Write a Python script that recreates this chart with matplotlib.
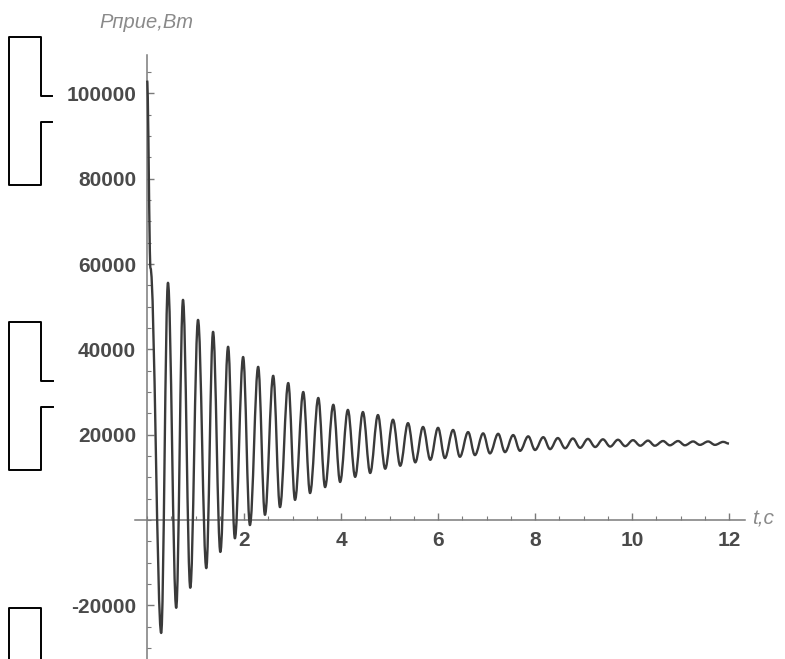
import matplotlib
matplotlib.use("Agg")
import matplotlib.pyplot as plt
from matplotlib.path import Path
from matplotlib.patches import PathPatch
from matplotlib.lines import Line2D
from matplotlib.ticker import MultipleLocator, FuncFormatter


START_T = [0.0, 0.07]
START_P = [103000, 59000]

TROUGH_T = [0.29, 0.60, 0.89, 1.22, 1.51, 1.81, 2.12, 2.43, 2.74, 3.05,
            3.36, 3.67, 3.98, 4.29, 4.60, 4.91, 5.22, 5.53, 5.84, 6.14,
            6.45, 6.76, 7.07, 7.38, 7.69, 8.00, 8.31, 8.62, 8.93, 9.24,
            9.55, 9.86, 10.17, 10.47, 10.78, 11.09, 11.40, 11.71]
TROUGH_P = [-26500, -20600, -15900, -11300, -7500, -4300, -1200, 1200, 3000, 4700,
            6300, 7700, 8900, 10100, 11000, 12000, 12700, 13500, 14100, 14500,
            14800, 15200, 15600, 15900, 16200, 16400, 16600, 16800, 16900, 17100,
            17200, 17300, 17400, 17400, 17500, 17500, 17600, 17600]

PEAK_T = [0.43, 0.74, 1.05, 1.36, 1.67, 1.98, 2.29, 2.60, 2.91, 3.22,
          3.53, 3.84, 4.14, 4.45, 4.76, 5.07, 5.38, 5.69, 6.00, 6.31,
          6.62, 6.93, 7.24, 7.55, 7.86, 8.17, 8.47, 8.78, 9.09, 9.40,
          9.71, 10.02, 10.33, 10.64, 10.95, 11.26, 11.57, 11.88]
PEAK_P = [55600, 51600, 46900, 44100, 40600, 38200, 35900, 33800, 32100, 30000,
          28600, 27000, 25800, 25300, 24600, 23500, 22700, 21800, 21600, 21100,
          20600, 20300, 20200, 19900, 19600, 19400, 19200, 19100, 19000, 18900,
          18800, 18700, 18600, 18500, 18500, 18400, 18400, 18300]

END_T = [12.0]
END_P = [17900]

Y_TICKS = [-20000, 20000, 40000, 60000, 80000, 100000]
X_TICKS = [2, 4, 6, 8, 10, 12]

AXIS_GRAY = "#7a7a7a"
LABEL_GRAY = "#4a4a4a"
CURVE = "#3a3a3a"


def smooth_path(ts, ps):
    # join consecutive extrema with cubic curves that are flat at each extremum
    verts = [(ts[0], ps[0])]
    codes = [Path.MOVETO]
    for i in range(1, len(ts)):
        dt = ts[i] - ts[i - 1]
        verts += [(ts[i - 1] + 0.36 * dt, ps[i - 1]),
                  (ts[i] - 0.36 * dt, ps[i]),
                  (ts[i], ps[i])]
        codes += [Path.CURVE4] * 3
    return Path(verts, codes)


def bracket(fig, pts):
    xs = [p[0] / 785 for p in pts]
    ys = [1 - p[1] / 659 for p in pts]
    fig.add_artist(Line2D(xs, ys, color="black", lw=1.4, solid_joinstyle="round"))


def main():
    pts = sorted(zip(START_T + TROUGH_T + PEAK_T + END_T,
                     START_P + TROUGH_P + PEAK_P + END_P))
    ts = [p[0] for p in pts]
    ps = [p[1] for p in pts]

    fig = plt.figure(figsize=(7.85, 6.59), dpi=100)
    ax = fig.add_axes([135 / 785, 0.0, 610 / 785, 604 / 659])
    ax.set_xlim(-0.25, 12.33)
    ax.set_ylim(-32600, 109000)

    ax.add_patch(PathPatch(smooth_path(ts, ps), fill=False, edgecolor=CURVE,
                           lw=1.7, joinstyle="round", zorder=3))

    for side in ("top", "right"):
        ax.spines[side].set_visible(False)
    ax.spines["left"].set_position(("data", 0))
    ax.spines["bottom"].set_position(("data", 0))
    for side in ("left", "bottom"):
        ax.spines[side].set_color(AXIS_GRAY)
        ax.spines[side].set_linewidth(1.1)

    ax.set_xticks(X_TICKS)
    ax.set_yticks(Y_TICKS)
    ax.xaxis.set_minor_locator(MultipleLocator(0.5))
    ax.yaxis.set_minor_locator(MultipleLocator(5000))
    ax.xaxis.set_major_formatter(FuncFormatter(lambda v, _: f"{v:g}"))
    ax.yaxis.set_major_formatter(FuncFormatter(lambda v, _: f"{int(v)}"))
    ax.tick_params(which="major", direction="in", length=5, width=1,
                   color=AXIS_GRAY, labelsize=15, labelcolor=LABEL_GRAY)
    ax.tick_params(which="minor", direction="in", length=3, width=0.8,
                   color=AXIS_GRAY)
    ax.tick_params(axis="y", which="major", pad=8)
    ax.tick_params(axis="x", which="major", pad=8)
    for lab in ax.get_xticklabels() + ax.get_yticklabels():
        lab.set_family("Liberation Sans")
        lab.set_fontweight("bold")

    fig.text(146 / 785, 1 - 22 / 659, "Рприе,Вт", ha="center", va="center",
             fontsize=14.5, style="italic", color="#8a8a8a", family="Liberation Sans")
    fig.text(752 / 785, 1 - 519 / 659, "t,c", ha="left", va="center",
             fontsize=15, style="italic", color="#8a8a8a", family="Liberation Sans")

    # scan marks on the left margin
    bracket(fig, [(52, 96), (41, 96), (41, 37), (9, 37), (9, 185), (41, 185), (41, 122), (52, 122)])
    bracket(fig, [(53, 381), (41, 381), (41, 322), (9, 322), (9, 470), (41, 470), (41, 407), (53, 407)])
    bracket(fig, [(9, 660), (9, 608), (41, 608), (41, 660)])

    fig.savefig("out.png", dpi=100)
    plt.close(fig)


if __name__ == "__main__":
    main()
